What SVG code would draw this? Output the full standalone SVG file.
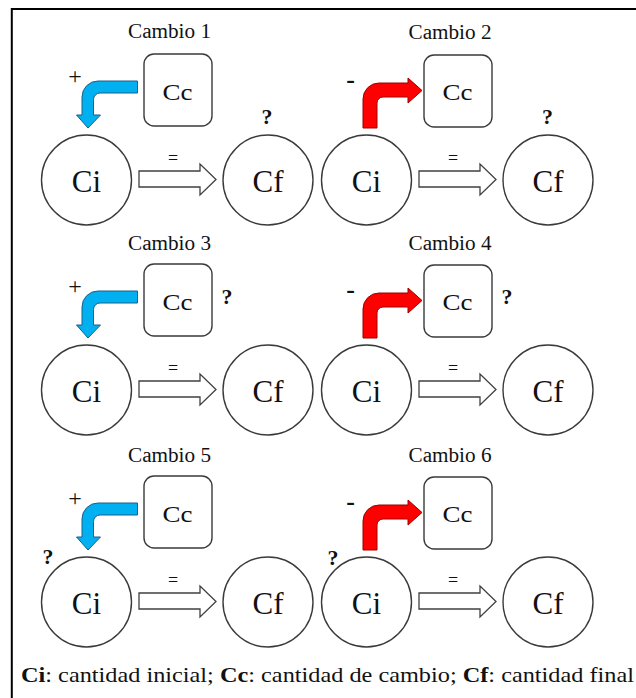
<svg xmlns="http://www.w3.org/2000/svg" xmlns:xlink="http://www.w3.org/1999/xlink" width="636" height="698" viewBox="0 0 636 698">
<style>
  text { font-family: "Liberation Serif", "Tinos", "Noto Serif", "DejaVu Serif", "Times New Roman", Times, serif; fill: #111; }
  .node { fill: #fff; stroke: #3a3a3a; stroke-width: 1.4; }
  .lbl { font-size: 20px; text-anchor: middle; }
  .big { font-size: 31px; text-anchor: middle; }
  .cc { font-size: 23px; text-anchor: middle; }
  .q { font-size: 22px; font-weight: bold; text-anchor: middle; }
  .sign { font-size: 24px; text-anchor: middle; }
  .minus { font-size: 26px; font-weight: bold; text-anchor: middle; }
  .eq { font-size: 18px; text-anchor: middle; }
  .blue { fill: #00b0f0; stroke: #1d5f86; stroke-width: 1; }
  .red { fill: #ff0000; stroke: #9c0000; stroke-width: 1; }
  .hollow { fill: #fff; stroke: #404040; stroke-width: 1.3; }
  .frame { stroke: #000; stroke-width: 2; fill: none; }
</style>
<defs>
  <path id="blueArrow" class="blue" d="M88,128 L76.5,115 L82,115 L82,97 A16,16 0 0 1 98,81 L137.5,81 L137.5,93 L100,93 A6.5,6.5 0 0 0 93.5,99.5 L93.5,115 L100.5,115 Z"/>
  <path id="redArrow" class="red" d="M83,128 L83,99 A16,16 0 0 1 99,83 L128,83 L128,78 L142,90.5 L128,103 L128,97 L103,97 A6,6 0 0 0 97,103 L97,128 Z"/>
  <path id="eqArrow" class="hollow" d="M139,171 L200,171 L200,164 L216,179.5 L200,195 L200,187 L139,187 Z"/>
</defs>
<rect x="0" y="0" width="636" height="698" fill="#fff"/>
<g id="frame">
  <line class="frame" x1="11.8" y1="9" x2="636" y2="9"/>
  <line class="frame" x1="11.8" y1="8" x2="11.8" y2="698"/>
</g>

<g id="titles">
  <text class="lbl" x="169.5" y="38" textLength="83" lengthAdjust="spacingAndGlyphs">Cambio 1</text>
  <text class="lbl" x="450" y="38.5" textLength="83" lengthAdjust="spacingAndGlyphs">Cambio 2</text>
  <text class="lbl" x="169.5" y="250" textLength="83" lengthAdjust="spacingAndGlyphs">Cambio 3</text>
  <text class="lbl" x="450" y="250" textLength="83" lengthAdjust="spacingAndGlyphs">Cambio 4</text>
  <text class="lbl" x="169.5" y="461.5" textLength="83" lengthAdjust="spacingAndGlyphs">Cambio 5</text>
  <text class="lbl" x="450" y="461.5" textLength="83" lengthAdjust="spacingAndGlyphs">Cambio 6</text>
</g>

<g id="connectors">
  <use xlink:href="#blueArrow" transform="translate(0,0)"/>
  <use xlink:href="#redArrow" transform="translate(280,0)"/>
  <use xlink:href="#blueArrow" transform="translate(0,210)"/>
  <use xlink:href="#redArrow" transform="translate(280,210)"/>
  <use xlink:href="#blueArrow" transform="translate(0,422)"/>
  <use xlink:href="#redArrow" transform="translate(280,422)"/>
  <use xlink:href="#eqArrow" transform="translate(0,0)"/>
  <use xlink:href="#eqArrow" transform="translate(280,0)"/>
  <use xlink:href="#eqArrow" transform="translate(0,210)"/>
  <use xlink:href="#eqArrow" transform="translate(280,210)"/>
  <use xlink:href="#eqArrow" transform="translate(0,422)"/>
  <use xlink:href="#eqArrow" transform="translate(280,422)"/>
</g>

<g id="connector-labels">
  <text class="sign" x="75" y="84">+</text>
  <text class="minus" x="350.5" y="88">-</text>
  <text class="sign" x="75" y="294">+</text>
  <text class="minus" x="350.5" y="298">-</text>
  <text class="sign" x="75" y="506">+</text>
  <text class="minus" x="350.5" y="510">-</text>
  <text class="eq" x="173" y="164">=</text>
  <text class="eq" x="453" y="164">=</text>
  <text class="eq" x="173" y="374">=</text>
  <text class="eq" x="453" y="374">=</text>
  <text class="eq" x="173" y="586">=</text>
  <text class="eq" x="453" y="586">=</text>
</g>

<!-- Panel 1 -->
<g id="p1-cc"><rect class="node" x="144" y="54" width="68" height="72" rx="10"/><text class="cc" x="177.5" y="100" textLength="30" lengthAdjust="spacingAndGlyphs">Cc</text></g>
<g id="p1-ci"><circle class="node" cx="86.5" cy="180" r="45"/><text class="big" x="86.5" y="192">Ci</text></g>
<g id="p1-cf"><circle class="node" cx="268" cy="180" r="45"/><text class="big" x="268" y="192">Cf</text><text class="q" x="267" y="124">?</text></g>

<!-- Panel 2 -->
<g id="p2-cc"><rect class="node" x="424" y="55" width="68" height="72" rx="10"/><text class="cc" x="457.5" y="100" textLength="30" lengthAdjust="spacingAndGlyphs">Cc</text></g>
<g id="p2-ci"><circle class="node" cx="366.5" cy="180" r="45"/><text class="big" x="366.5" y="192">Ci</text></g>
<g id="p2-cf"><circle class="node" cx="548" cy="180" r="45"/><text class="big" x="548" y="192">Cf</text><text class="q" x="547.5" y="124">?</text></g>

<!-- Panel 3 -->
<g id="p3-cc"><rect class="node" x="144" y="264" width="68" height="72" rx="10"/><text class="cc" x="177.5" y="310" textLength="30" lengthAdjust="spacingAndGlyphs">Cc</text><text class="q" x="227" y="304">?</text></g>
<g id="p3-ci"><circle class="node" cx="86.5" cy="390" r="45"/><text class="big" x="86.5" y="402">Ci</text></g>
<g id="p3-cf"><circle class="node" cx="268" cy="390" r="45"/><text class="big" x="268" y="402">Cf</text></g>

<!-- Panel 4 -->
<g id="p4-cc"><rect class="node" x="424" y="265" width="68" height="72" rx="10"/><text class="cc" x="457.5" y="310" textLength="30" lengthAdjust="spacingAndGlyphs">Cc</text><text class="q" x="507" y="304">?</text></g>
<g id="p4-ci"><circle class="node" cx="366.5" cy="390" r="45"/><text class="big" x="366.5" y="402">Ci</text></g>
<g id="p4-cf"><circle class="node" cx="548" cy="390" r="45"/><text class="big" x="548" y="402">Cf</text></g>

<!-- Panel 5 -->
<g id="p5-cc"><rect class="node" x="144" y="476" width="68" height="72" rx="10"/><text class="cc" x="177.5" y="522" textLength="30" lengthAdjust="spacingAndGlyphs">Cc</text></g>
<g id="p5-ci"><circle class="node" cx="86.5" cy="602" r="45"/><text class="big" x="86.5" y="614">Ci</text><text class="q" x="48" y="564">?</text></g>
<g id="p5-cf"><circle class="node" cx="268" cy="602" r="45"/><text class="big" x="268" y="614">Cf</text></g>

<!-- Panel 6 -->
<g id="p6-cc"><rect class="node" x="424" y="477" width="68" height="72" rx="10"/><text class="cc" x="457.5" y="522" textLength="30" lengthAdjust="spacingAndGlyphs">Cc</text></g>
<g id="p6-ci"><circle class="node" cx="366.5" cy="602" r="45"/><text class="big" x="366.5" y="614">Ci</text><text class="q" x="333" y="565">?</text></g>
<g id="p6-cf"><circle class="node" cx="548" cy="602" r="45"/><text class="big" x="548" y="614">Cf</text></g>

<g id="caption">
  <text x="21" y="682" font-size="21" textLength="613" lengthAdjust="spacingAndGlyphs"><tspan font-weight="bold">Ci</tspan>: cantidad inicial; <tspan font-weight="bold">Cc</tspan>: cantidad de cambio; <tspan font-weight="bold">Cf</tspan>: cantidad final</text>
</g>
</svg>
